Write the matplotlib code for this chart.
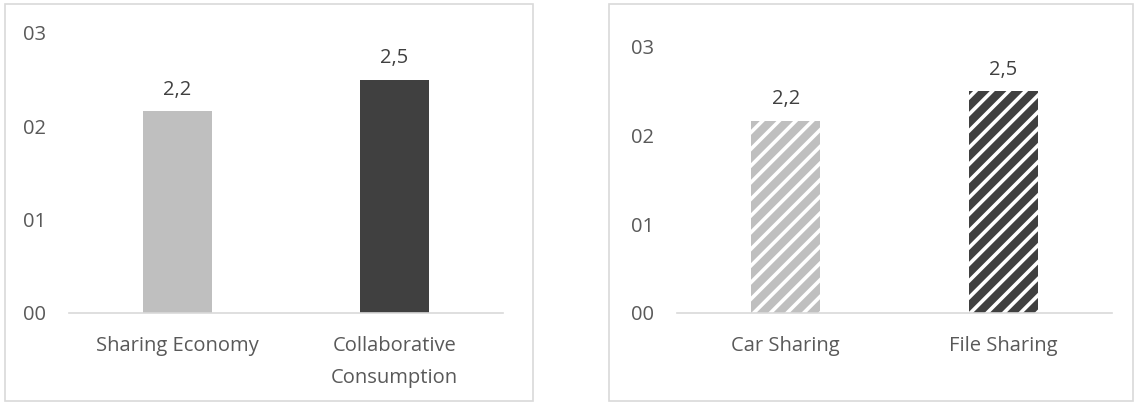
import matplotlib
matplotlib.use("Agg")
import matplotlib.pyplot as plt
from matplotlib.patches import Rectangle

# data
left_categories = ["Sharing Economy", "Collaborative\nConsumption"]
left_values = [2.16, 2.5]
right_categories = ["Car Sharing", "File Sharing"]
right_values = [2.17, 2.5]
y_ticks = [0, 1, 2, 3]
bar_colors = ["#BFBFBF", "#404040"]

plt.rcParams['font.family'] = ['Open Sans', 'DejaVu Sans']
plt.rcParams['hatch.linewidth'] = 2.6
text_color = "#595959"
line_color = "#D9D9D9"
fs = 14.5

fig = plt.figure(figsize=(11.36, 4.03), dpi=100)


def px_box(x0, x1, y_top, y_bottom):
    # pixel coords (top-left origin) -> figure fractions
    W, H = 1136.0, 403.0
    return [x0 / W, (H - y_bottom) / H, (x1 - x0) / W, (y_bottom - y_top) / H]


# chart area frames
for x0, x1 in [(5, 533), (609, 1133)]:
    l, b, w, h = px_box(x0, x1, 4, 401)
    fig.patches.append(Rectangle((l, b), w, h, transform=fig.transFigure,
                                 fill=False, edgecolor=line_color, linewidth=1.2))


def draw_panel(ax, cats, vals, hatched):
    xs = range(len(cats))
    if hatched:
        bars = ax.bar(xs, vals, width=0.318, color=bar_colors, edgecolor="white",
                      linewidth=0, hatch="//")
    else:
        bars = ax.bar(xs, vals, width=0.318, color=bar_colors, linewidth=0)
    for b, v in zip(bars, vals):
        ax.annotate(f"{v:.1f}".replace(".", ","), (b.get_x() + b.get_width() / 2, v),
                    xytext=(0, 12), textcoords="offset points", ha="center",
                    va="baseline", fontsize=fs, color="#404040")
    ax.set_xlim(-0.5, len(cats) - 0.5)
    ax.set_ylim(0, 3)
    ax.set_yticks(y_ticks)
    ax.set_yticklabels([f"{t:02d}" for t in y_ticks])
    ax.set_xticks(list(xs))
    ax.set_xticklabels(cats, linespacing=1.8)
    ax.tick_params(axis="y", length=0, pad=16.5, labelsize=fs, labelcolor=text_color)
    ax.tick_params(axis="x", length=0, pad=16.5, labelsize=fs, labelcolor=text_color)
    for s in ["top", "right", "left"]:
        ax.spines[s].set_visible(False)
    ax.spines["bottom"].set_color(line_color)
    ax.spines["bottom"].set_linewidth(1.2)


ax1 = fig.add_axes(px_box(69, 503, 33, 313))
draw_panel(ax1, left_categories, left_values, False)

ax2 = fig.add_axes(px_box(677, 1112, 47, 313))
draw_panel(ax2, right_categories, right_values, True)

fig.savefig("out.png", dpi=100)
